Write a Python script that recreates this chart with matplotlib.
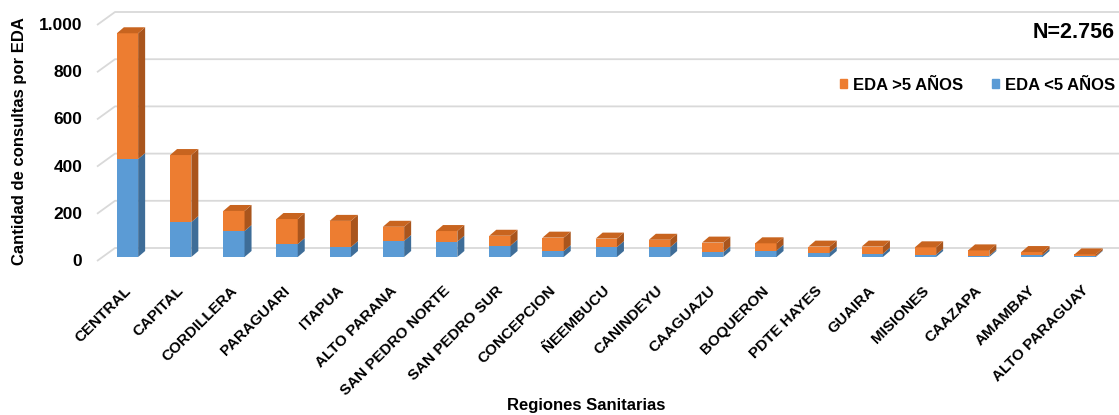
import matplotlib
matplotlib.use("Agg")
import matplotlib.pyplot as plt
from matplotlib.patches import Polygon, Patch
from matplotlib.transforms import ScaledTranslation

plt.rcParams['font.family'] = ['Liberation Sans', 'DejaVu Sans']
plt.rcParams['font.weight'] = 'bold'

regiones = ["CENTRAL", "CAPITAL", "CORDILLERA", "PARAGUARI", "ITAPUA", "ALTO PARANA",
            "SAN PEDRO NORTE", "SAN PEDRO SUR", "CONCEPCION", "ÑEEMBUCU", "CANINDEYU",
            "CAAGUAZU", "BOQUERON", "PDTE HAYES", "GUAIRA", "MISIONES", "CAAZAPA",
            "AMAMBAY", "ALTO PARAGUAY"]
eda_menor5 = [415, 148, 110, 55, 42, 68, 65, 48, 25, 42, 41, 20, 27, 19, 14, 10, 6, 9, 3]
eda_mayor5 = [533, 284, 85, 106, 111, 60, 45, 42, 57, 36, 32, 41, 31, 25, 30, 31, 22, 12, 8]
yticks = [0, 200, 400, 600, 800, 1000]
ytick_labels = ["0", "200", "400", "600", "800", "1.000"]

W, H = 1119, 415
L, R = 100.9, 1111.7
fig = plt.figure(figsize=(W / 100, H / 100), dpi=100)
ax = fig.add_axes([L / W, 1 - 257 / H, (R - L) / W, 236 / H])
ax.patch.set_alpha(0)
n = len(regiones)
ax.set_xlim(-0.5, n - 0.5)
ax.set_ylim(0, 1000)
for s in ax.spines.values():
    s.set_visible(False)

px_x = n / (R - L)
px_y = 1000 / 236.0
def xd(px):
    return -0.5 + (px - L) * px_x

# back-wall grid lines
grid_c = '#D9D9D9'
for v in yticks:
    yb = v + 9 * px_y
    ax.plot([xd(97), xd(115), xd(1119)], [v - 4 * px_y, yb, yb], color=grid_c,
            lw=1.3, clip_on=False, zorder=1, solid_capstyle='butt')

w = 0.4
ddx = 7 * px_x
ddy = 6 * px_y
blue = ('#5B9BD5', '#3E6D98', '#4F88BC')
orange = ('#ED7D31', '#A9551D', '#C8641F')
x = list(range(n))
tops = [a + b for a, b in zip(eda_menor5, eda_mayor5)]
ax.bar(x, eda_menor5, width=w, color=blue[0], zorder=3, linewidth=0)
ax.bar(x, eda_mayor5, width=w, bottom=eda_menor5, color=orange[0], zorder=3, linewidth=0)
for i in range(n):
    for b, t, cols in ((0, eda_menor5[i], blue), (eda_menor5[i], tops[i], orange)):
        xr = i + w / 2
        ax.add_patch(Polygon([(xr, b), (xr + ddx, b + ddy), (xr + ddx, t + ddy), (xr, t)],
                             closed=True, fc=cols[1], ec='none', zorder=3))
    t = tops[i]
    xl = i - w / 2
    ax.add_patch(Polygon([(xl, t), (xl + w, t), (xl + w + ddx, t + ddy), (xl + ddx, t + ddy)],
                         closed=True, fc=orange[2], ec='none', zorder=3, clip_on=False))

ax.set_yticks(yticks, labels=ytick_labels, fontsize=12.5, fontweight='bold')
ax.tick_params(axis='y', length=0, pad=13.5)
for lab in ax.get_yticklabels():
    lab.set_transform(lab.get_transform() + ScaledTranslation(0, -3 / 100, fig.dpi_scale_trans))
ax.set_xticks(x, labels=regiones, fontsize=11, fontweight='bold', rotation=45,
              ha='right', va='top', rotation_mode='anchor')
ax.tick_params(axis='x', length=0, pad=19)
for lab in ax.get_xticklabels():
    lab.set_transform(lab.get_transform() + ScaledTranslation(-4 / 100, 0, fig.dpi_scale_trans))

fig.text(586 / W, 1 - 405 / H, "Regiones Sanitarias", ha='center', va='center',
         fontsize=12, fontweight='bold')
fig.text(20 / W, 1 - 141 / H, "Cantidad de consultas por EDA", ha='center', va='center',
         rotation=90, fontsize=12, fontweight='bold')
fig.text(1115 / W, 1 - 33 / H, "N=2.756", ha='right', va='center', fontsize=15.5,
         fontweight='bold')

handles = [Patch(color=orange[0], label='EDA >5 AÑOS'), Patch(color=blue[0], label='EDA <5 AÑOS')]
fig.legend(handles=handles, loc='center right', bbox_to_anchor=(1115 / W, 1 - 85 / H),
           ncol=2, frameon=False, borderpad=0, borderaxespad=0, handlelength=0.45,
           handleheight=0.45, handletextpad=0.35, columnspacing=1.7,
           prop={'size': 12, 'weight': 'bold'})

fig.savefig("out.png", dpi=100)
